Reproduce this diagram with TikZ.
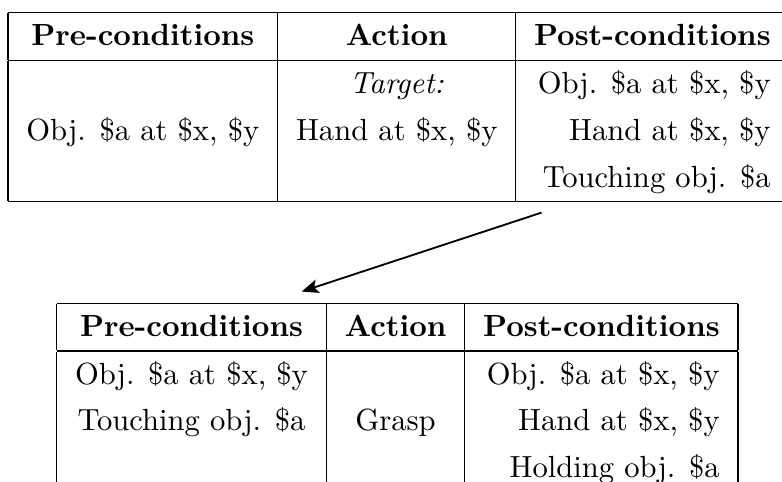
\documentclass[tikz,border=0pt]{standalone}
\usetikzlibrary{arrows.meta}
\renewcommand{\arraystretch}{1.27}
\tikzset{
  tbl/.style={inner sep=0pt, outer sep=0pt, anchor=north west},
  flow/.style={line width=0.6pt, -{Stealth[length=5.5pt,width=4.5pt,inset=1.2pt]}}
}
\begin{document}
\begin{tikzpicture}
\useasboundingbox (0,0) rectangle (255.6pt,-157.5pt);
\node[tbl] (reach) at (2.64pt,-3.95pt) {%
\begin{tabular}{|c|c|r|}
\hline
\textbf{Pre-conditions} & \textbf{Action} & \textbf{Post-conditions}\\
\hline
 & \textit{Target:} & Obj. \$a at \$x, \$y\\
Obj. \$a at \$x, \$y & Hand at \$x, \$y & Hand at \$x, \$y\\
 & & Touching obj. \$a\\
\hline
\end{tabular}};
\node[tbl] (grasp) at (18.53pt,-98.9pt) {%
\begin{tabular}{|c|c|r|}
\hline
\textbf{Pre-conditions} & \textbf{Action} & \textbf{Post-conditions}\\
\hline
Obj. \$a at \$x, \$y & & Obj. \$a at \$x, \$y\\
Touching obj. \$a & Grasp & Hand at \$x, \$y\\
 & & Holding obj. \$a\\
\hline
\end{tabular}};
\coordinate (from) at (177pt,-69.5pt);
\coordinate (to) at (98.6pt,-95.3pt);
\draw[flow] (from) -- (to);
\end{tikzpicture}
\end{document}
